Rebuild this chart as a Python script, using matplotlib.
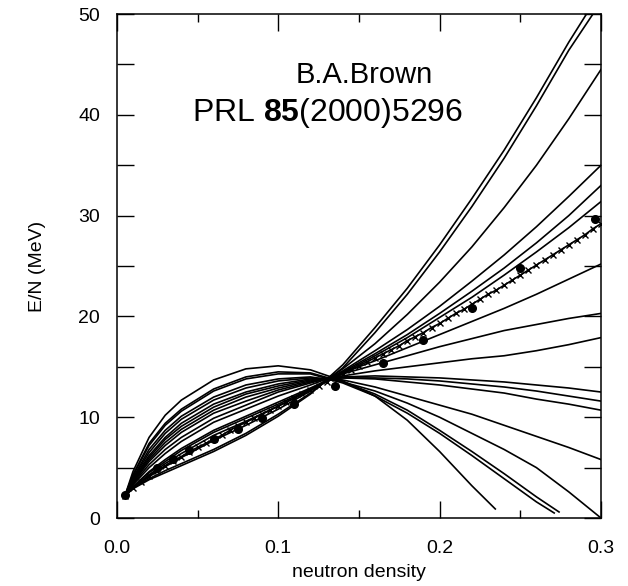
import numpy as np
import matplotlib
matplotlib.use('Agg')
from matplotlib import pyplot as plt
from matplotlib.ticker import MultipleLocator

plt.rcParams['font.family'] = ['Liberation Sans', 'DejaVu Sans']
plt.rcParams['mathtext.fontset'] = 'custom'
plt.rcParams['mathtext.rm'] = 'Liberation Sans'
plt.rcParams['mathtext.bf'] = 'Liberation Sans:bold'

rho_grid = [0.005, 0.01, 0.02, 0.03, 0.04, 0.06, 0.08, 0.10, 0.12, 0.14,
            0.16, 0.18, 0.20, 0.22, 0.24, 0.26, 0.28, 0.30]

# E/N (MeV), 17 Skyrme sets, stiffest first
c1 = [2.2, 2.9, 3.8, 4.5, 5.2, 6.6, 8.2, 10.1, 12.3, 15.2, 18.9, 22.8, 27.1, 31.7, 36.5, 41.7, 47.2]
c2 = [2.2, 3.0, 3.9, 4.7, 5.4, 6.8, 8.4, 10.3, 12.4, 14.9, 18.4, 22.2, 26.4, 30.9, 35.7, 40.9, 46.4]
c3 = [2.2, 3.0, 4.1, 5.1, 6.0, 7.7, 9.2, 10.8, 12.6, 14.8, 17.3, 20.2, 23.4, 26.9, 30.8, 35.0, 39.6, 44.5]
c4 = [2.2, 3.0, 4.3, 5.4, 6.4, 8.2, 9.6, 11.1, 12.7, 14.6, 16.6, 18.7, 21.0, 23.5, 26.1, 28.9, 31.9, 35.0]
c5 = [2.2, 3.1, 4.5, 5.6, 6.7, 8.5, 9.9, 11.3, 12.8, 14.5, 16.3, 18.2, 20.3, 22.5, 24.8, 27.3, 30.0, 33.0]
c6 = [2.2, 3.1, 4.6, 5.8, 6.9, 8.7, 10.1, 11.5, 12.9, 14.4, 16.1, 17.9, 19.9, 21.9, 24.1, 26.4, 28.8, 31.4]
c7 = [2.2, 3.3, 5.0, 6.4, 7.6, 9.5, 10.8, 12.1, 13.2, 14.4, 15.6, 16.9, 18.2, 19.5, 20.8, 22.2, 23.7, 25.2]
c8 = [2.2, 3.4, 5.3, 6.8, 8.0, 9.9, 11.2, 12.5, 13.4, 14.3, 15.2, 16.1, 17.0, 17.8, 18.6, 19.2, 19.8, 20.3]
c9 = [2.2, 3.5, 5.6, 7.2, 8.5, 10.4, 11.6, 12.7, 13.5, 14.1, 14.6, 15.0, 15.4, 15.8, 16.1, 16.6, 17.2, 17.9]
c10 = [2.2, 3.6, 5.8, 7.5, 8.8, 10.7, 12.0, 12.9, 13.6, 14.0, 14.1, 14.0, 13.9, 13.7, 13.5, 13.2, 12.9, 12.5]
c11 = [2.2, 3.7, 6.0, 7.8, 9.1, 11.0, 12.3, 13.1, 13.7, 13.9, 13.9, 13.8, 13.6, 13.3, 13.0, 12.6, 12.1, 11.6]
c12 = [2.2, 3.8, 6.2, 8.0, 9.4, 11.3, 12.5, 13.3, 13.8, 13.9, 13.8, 13.5, 13.2, 12.8, 12.4, 11.8, 11.3, 10.7]
c13 = [2.2, 3.9, 6.5, 8.4, 9.8, 11.7, 12.9, 13.6, 13.9, 13.7, 13.0, 12.1, 11.2, 10.3, 9.2, 8.1, 7.0, 5.8]
c14 = [2.2, 4.0, 6.8, 8.7, 10.1, 12.0, 13.2, 13.8, 14.0, 13.5, 12.6, 11.4, 10.0, 8.4, 6.8, 5.0, 2.6, 0.0]
c15 = [2.2, 4.2, 7.2, 9.2, 10.6, 12.6, 13.8, 14.3, 14.3, 13.4, 12.1, 10.4, 8.4, 6.2, 3.9, 1.6]
c16 = [2.2, 4.3, 7.4, 9.4, 10.8, 12.8, 14.0, 14.5, 14.4, 13.5, 12.3, 10.7, 8.7, 6.6, 4.4, 2.1]
c17 = [2.2, 4.6, 8.0, 10.2, 11.7, 13.7, 14.8, 15.1, 14.7, 13.6, 12.1, 9.7, 6.6, 3.2]

# where the curves leave the frame / stop (rho, E)
ends = {1: (0.291, 50.0), 2: (0.295, 50.0), 15: (0.271, 0.5), 16: (0.274, 0.6), 17: (0.2345, 0.9)}
curves = [c1, c2, c3, c4, c5, c6, c7, c8, c9, c10, c11, c12, c13, c14, c15, c16, c17]

# SkX (crosses)
rho_skx = [0.005 * (i + 1) for i in range(60)]
E_skx = [2.2, 3.0, 3.6, 4.2, 4.7, 5.2, 5.7, 6.1, 6.6, 7.0,
         7.4, 7.8, 8.2, 8.7, 9.1, 9.5, 9.9, 10.3, 10.7, 11.1,
         11.5, 11.9, 12.3, 12.7, 13.1, 13.5, 13.9, 14.3, 14.7, 15.1,
         15.5, 15.9, 16.3, 16.7, 17.1, 17.6, 18.0, 18.4, 18.9, 19.3,
         19.8, 20.3, 20.7, 21.2, 21.7, 22.2, 22.6, 23.1, 23.6, 24.1,
         24.6, 25.1, 25.6, 26.1, 26.6, 27.1, 27.6, 28.1, 28.7, 29.2]

# Friedman-Pandharipande (filled circles)
rho_fp = [0.005, 0.025, 0.035, 0.045, 0.06, 0.075, 0.09, 0.11, 0.135, 0.165, 0.19, 0.22, 0.25, 0.296]
E_fp = [2.3, 5.0, 5.9, 6.7, 7.8, 8.8, 9.9, 11.3, 13.1, 15.4, 17.7, 20.8, 24.8, 29.7]

fig = plt.figure(figsize=(6.28, 5.86), dpi=100)
ax = fig.add_axes([0.186, 0.116, 0.771, 0.860])

for i, E in enumerate(curves):
    x = list(rho_grid[:len(E)])
    y = list(E)
    if i + 1 in ends:
        x.append(ends[i + 1][0])
        y.append(ends[i + 1][1])
    ax.plot(x, y, color='black', lw=1.2)

ax.plot(rho_skx, E_skx, color='black', lw=1.2, marker='x', ms=5, mew=1.0)
ax.plot(rho_fp, E_fp, 'o', color='black', ms=5.5)

ax.set_xlim(0, 0.3)
ax.set_ylim(0, 50)
ax.xaxis.set_major_locator(MultipleLocator(0.1))
ax.xaxis.set_minor_locator(MultipleLocator(0.05))
ax.yaxis.set_major_locator(MultipleLocator(10))
ax.yaxis.set_minor_locator(MultipleLocator(5))
ax.xaxis.set_major_formatter(plt.FuncFormatter(lambda v, p: '%.1f' % v))
ax.tick_params(which='both', direction='in', top=True, right=True, width=1.0, labelsize=14)
ax.tick_params(axis='x', which='major', length=12, pad=16)
ax.tick_params(axis='x', which='minor', length=6)
ax.tick_params(axis='y', which='major', length=12, pad=12)
ax.tick_params(axis='y', which='minor', length=12)
for s in ax.spines.values():
    s.set_linewidth(1.1)

ax.set_xlabel('neutron density', fontsize=14, labelpad=5)
ax.set_ylabel('E/N (MeV)', fontsize=14, labelpad=23)

ax.text(0.511, 0.879, 'B.A.Brown', transform=ax.transAxes, ha='center', va='center', fontsize=21)
ax.text(0.436, 0.804, r'PRL $\mathbf{85}$(2000)5296', transform=ax.transAxes, ha='center', va='center', fontsize=23)

fig.savefig('out.png', dpi=100)
